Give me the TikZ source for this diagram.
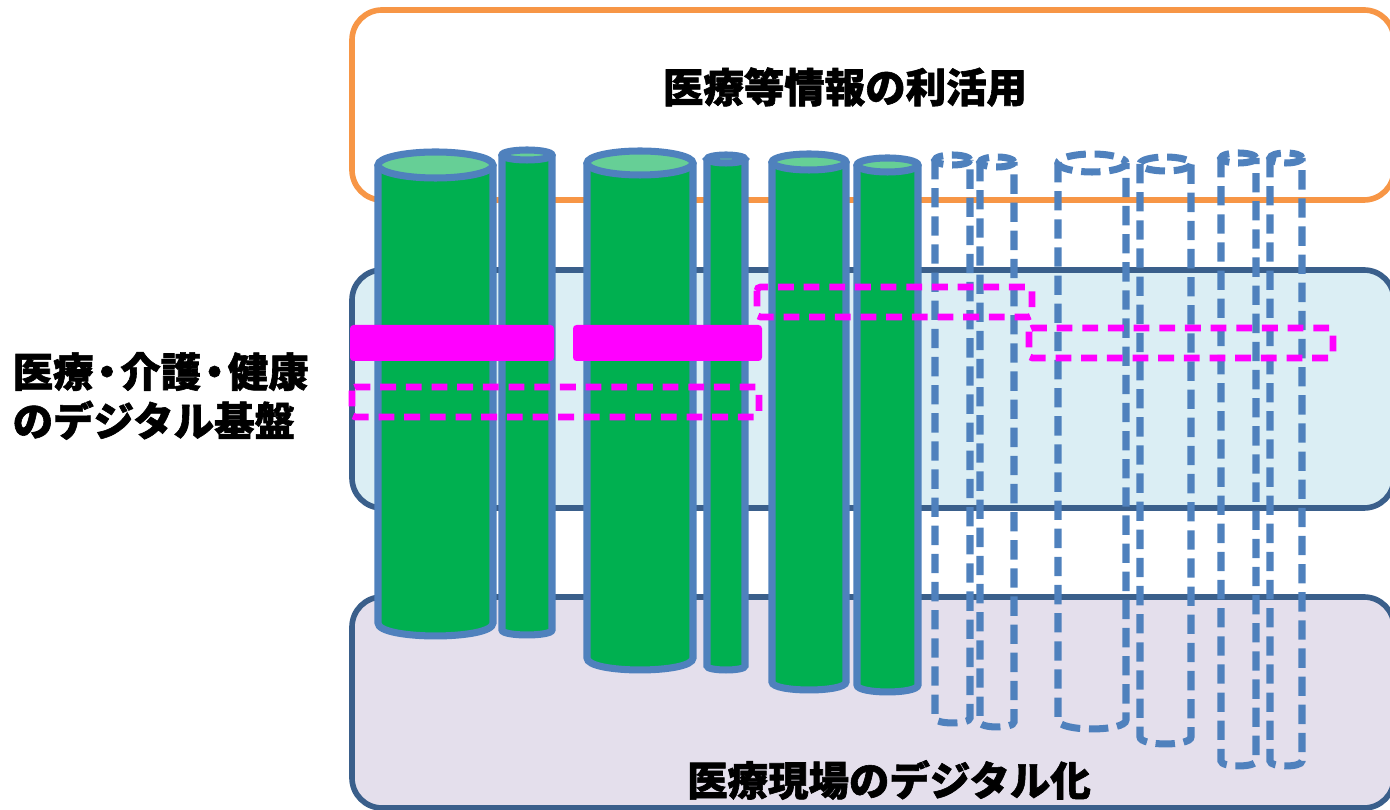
\documentclass[tikz,border=0pt]{standalone}
\usepackage{fontspec}
\newfontfamily\cjk[BoldFeatures={FakeBold=1.5}]{Noto Sans CJK JP}
\usetikzlibrary{positioning}
\definecolor{boxorange}{HTML}{F79646}
\definecolor{boxblue}{HTML}{DBEEF4}
\definecolor{boxlilac}{HTML}{E4DFEC}
\definecolor{boxline}{HTML}{3A5F8B}
\definecolor{tubeline}{HTML}{4F81BD}
\definecolor{tubegreen}{HTML}{00B050}
\definecolor{capgreen}{HTML}{66CF96}
\definecolor{linkpink}{HTML}{FF00FF}
\tikzstyle{panel} = [line width=1.6pt, rounded corners=3mm]
\tikzstyle{heading} = [font=\cjk\bfseries\fontsize{11.5}{14}\selectfont, inner sep=0pt]
\tikzstyle{solidtube} = [draw=tubeline, line width=2pt, fill=tubegreen]
\tikzstyle{solidtube cap} = [fill=capgreen]
\tikzstyle{hollowtube} = [draw=tubeline, line width=2pt, dash pattern=on 5.5pt off 2.5pt]
\tikzstyle{hollowtube cap} = []
\tikzstyle{bar} = [fill=linkpink, rounded corners=1pt]
\tikzstyle{plannedbar} = [draw=linkpink, line width=1.9pt, dash pattern=on 4.5pt off 2.8pt, rounded corners=1pt]
\newcommand{\middot}{\kern-.17em・\kern-.17em}

% \tube{style}{left}{right}{top}{bottom}{y radius}
\newcommand{\tube}[6]{%
  \path[#1, draw=none] (#2,#4) -- (#2,#5) .. controls (#2,{#5+1.33*#6}) and (#3,{#5+1.33*#6}) .. (#3,#5) -- (#3,#4) -- cycle;
  \path[#1, fill=none] (#2,#4) -- (#2,#5) .. controls (#2,{#5+1.33*#6}) and (#3,{#5+1.33*#6}) .. (#3,#5) -- (#3,#4);
  \path[#1, #1 cap] ({(#2+#3)/2},#4) ellipse [x radius={(#3-#2)/2}, y radius=#6];
}

\begin{document}
\begin{tikzpicture}[x=0.01cm, y=-0.01cm]
    \useasboundingbox (0,0) rectangle (1390,810);

    \draw[panel, draw=boxorange, fill=white] (352,10) rectangle (1394,200);
    \draw[panel, draw=boxline, fill=boxblue] (352,270) rectangle (1394,508);
    \draw[panel, draw=boxline, fill=boxlilac] (352,597) rectangle (1394,808);

    \node[heading] (use) at (845,87) {医療等情報の利活用};
    \node[heading, anchor=west, align=left] (base) at (12,396) {医療\middot 介護\middot 健康\\のデジタル基盤};
    \node[heading] (field) at (889,780) {医療現場のデジタル化};

    \foreach \xl/\xr/\yt/\yb/\ry in {378/493/165/623/13, 502/552/155/630/5, 587/693/163/658/12,
        707/745/159/666/4, 772/846/162/682/8, 857/918/165/685/7}
        {\tube{solidtube}{\xl}{\xr}{\yt}{\yb}{\ry}}
    \foreach \xl/\xr/\yt/\yb/\ry in {935/970/160/718/5, 980/1014/162/722/5, 1058/1126/163/720/9,
        1140/1191/164/737/7, 1221/1256/158/761/5, 1270/1302/158/761/5}
        {\tube{hollowtube}{\xl}{\xr}{\yt}{\yb}{\ry}}

    \fill[bar] (350,325) rectangle (554,361);
    \fill[bar] (573,325) rectangle (762,361);
    \draw[plannedbar] (352,387) rectangle (759,417);
    \draw[plannedbar] (757,287) rectangle (1032,317);
    \draw[plannedbar] (1029,328) rectangle (1333,358);
\end{tikzpicture}
\end{document}
